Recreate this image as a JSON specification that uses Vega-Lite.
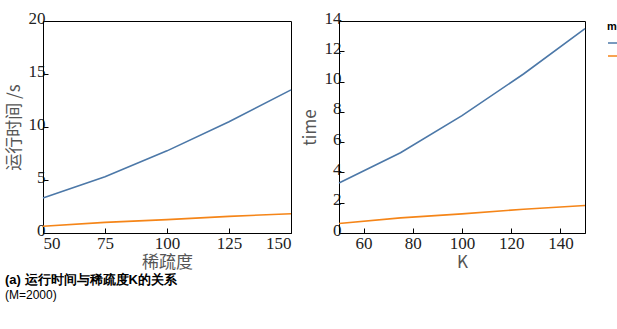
{
  "$schema": "https://vega.github.io/schema/vega-lite/v6.json",
  "padding": {"left": 4, "top": 8, "right": 4, "bottom": 0},
  "background": "white",
  "datasets": {
    "a": [
      {"K": 50, "time": 3.3, "method": "SR"},
      {"K": 75, "time": 5.3, "method": "SR"},
      {"K": 100, "time": 7.75, "method": "SR"},
      {"K": 125, "time": 10.5, "method": "SR"},
      {"K": 150, "time": 13.5, "method": "SR"},
      {"K": 50, "time": 0.63, "method": "SegSR"},
      {"K": 75, "time": 1.0, "method": "SegSR"},
      {"K": 100, "time": 1.26, "method": "SegSR"},
      {"K": 125, "time": 1.57, "method": "SegSR"},
      {"K": 150, "time": 1.82, "method": "SegSR"}
    ]
  },
  "config": {
    "view": {"stroke": "black", "strokeWidth": 1},
    "axis": {
      "grid": false,
      "domainColor": "black",
      "tickColor": "black",
      "tickSize": -5,
      "labelFont": "Liberation Serif",
      "labelFontSize": 17,
      "labelColor": "#222",
      "titleFont": "Noto Sans CJK SC",
      "titleFontSize": 17,
      "titleFontWeight": "normal",
      "titleColor": "#555"
    },
    "axisX": {"labelPadding": 7, "titlePadding": 3},
    "axisY": {"labelPadding": 3, "titlePadding": 5, "labelOffset": -3}
  },
  "spacing": 5,
  "hconcat": [
    {
      "width": 248,
      "height": 212,
      "data": {"name": "a"},
      "title": {"text": "(a) 运行时间与稀疏度K的关系", "subtitle": "\u00a0\u00a0\u00a0\u00a0(M=2000)", "orient": "bottom", "anchor": "start"},
      "layer": [
        {
          "mark": {"type": "line", "strokeWidth": 1.6},
          "encoding": {
            "x": {"field": "K", "type": "quantitative", "title": "稀疏度", "scale": {"domain": [50, 150], "nice": false}, "axis": {"values": [50, 75, 100, 125, 150]}},
            "y": {"field": "time", "type": "quantitative", "title": "运行时间 /s", "scale": {"domain": [0, 20], "nice": false}, "axis": {"values": [0, 5, 10, 15, 20]}},
            "stroke": {"field": "method", "type": "nominal"}
          }
        }
      ]
    },
    {
      "width": 246,
      "height": 212,
      "data": {"name": "a"},
      "layer": [
        {
          "mark": {"type": "line", "strokeWidth": 1.6},
          "encoding": {
            "x": {"field": "K", "type": "quantitative"},
            "y": {"field": "time", "type": "quantitative"},
            "stroke": {"field": "method", "type": "nominal"}
          }
        }
      ]
    }
  ]
}
